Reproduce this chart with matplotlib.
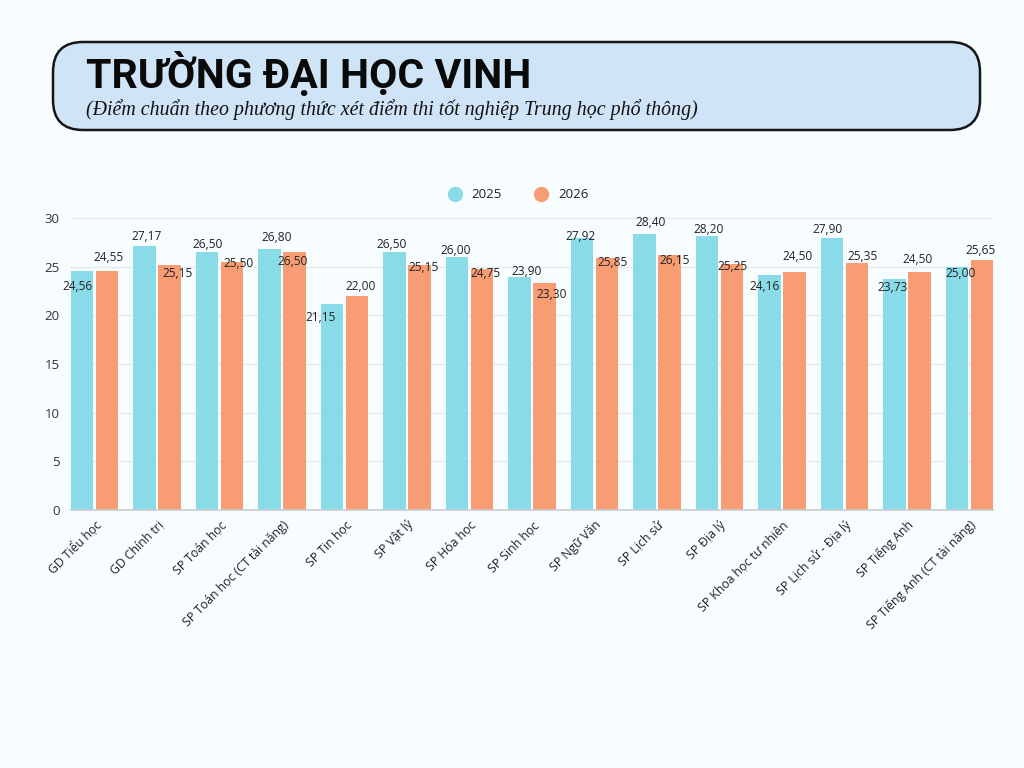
import matplotlib
matplotlib.use('Agg')
import matplotlib.pyplot as plt
from matplotlib.patches import FancyBboxPatch
import numpy as np

# data
majors = ['GD Tiểu học', 'GD Chính trị', 'SP Toán học', 'SP Toán học (CT tài năng)',
          'SP Tin học', 'SP Vật lý', 'SP Hóa học', 'SP Sinh học', 'SP Ngữ Văn',
          'SP Lịch sử', 'SP Địa lý', 'SP Khoa học tự nhiên', 'SP Lịch sử - Địa lý',
          'SP Tiếng Anh', 'SP Tiếng Anh (CT tài năng)']
score_2025 = [24.56, 27.17, 26.50, 26.80, 21.15, 26.50, 26.00, 23.90, 27.92,
              28.40, 28.20, 24.16, 27.90, 23.73, 25.00]
score_2026 = [24.55, 25.15, 25.50, 26.50, 22.00, 25.15, 24.75, 23.30, 25.85,
              26.15, 25.25, 24.50, 25.35, 24.50, 25.65]
years = ['2025', '2026']
y_ticks = [0, 5, 10, 15, 20, 25, 30]

# label nudges in pixels (dx, dy up) - the source chart shuffles labels to avoid overlaps
nudge_2025 = [(-5, -16), (2, 9), (0, 8), (7, 12), (-11, -13), (-3, 8), (-1, 6), (7, 6),
              (-1, 2), (6, 11), (2, 6), (-5, -12), (-4, 9), (-2, -8), (4, -7)]
nudge_2026 = [(1, 14), (8, -8), (6, -2), (-2, -9), (4, 9), (4, -2), (3, -4), (7, -11),
              (6, -4), (5, -5), (1, -2), (3, 15), (6, 7), (-2, 12), (-1, 10)]

BG = '#f7fcff'
CYAN = '#89dbe7'
ORANGE = '#f89c73'
TXT = '#222222'
FONT = 'Open Sans'

fig = plt.figure(figsize=(10.24, 7.68), dpi=100, facecolor=BG)

# header box, drawn in pixel units
top = fig.add_axes([0, 0, 1, 1])
top.set_xlim(0, 1024)
top.set_ylim(768, 0)
top.axis('off')
top.patch.set_alpha(0)
box = FancyBboxPatch((53, 42), 927, 88, boxstyle='round,pad=0,rounding_size=30',
                     facecolor='#cfe4f7', edgecolor='#161616', linewidth=1.8)
top.add_patch(box)
top.text(86, 88, 'TRƯỜNG ĐẠI HỌC VINH', fontsize=29.5, fontweight='bold',
         family='Roboto', color='#0a0a0a', va='baseline')
top.text(86, 115, '(Điểm chuẩn theo phương thức xét điểm thi tốt nghiệp Trung học phổ thông)',
         fontsize=14.3, style='italic', family='Liberation Serif', color='#111111',
         va='baseline')

# chart
ax = fig.add_axes([71 / 1024, 1 - 510 / 768, 922 / 1024, 292 / 768])
ax.set_facecolor(BG)
x = np.arange(len(majors))
w = 0.36
b1 = ax.bar(x - 0.2, score_2025, w, color=CYAN, label=years[0], zorder=2)
b2 = ax.bar(x + 0.2, score_2026, w, color=ORANGE, label=years[1], zorder=2)

for bars, vals, nud in [(b1, score_2025, nudge_2025), (b2, score_2026, nudge_2026)]:
    for bar, v, (dx, dy) in zip(bars, vals, nud):
        ax.annotate(f'{v:.2f}'.replace('.', ','),
                    (bar.get_x() + bar.get_width() / 2, v),
                    xytext=(dx, dy), textcoords='offset pixels',
                    ha='center', va='center', fontsize=8.6, family=FONT, color=TXT, zorder=3)

ax.set_xlim(-0.38, len(majors) - 1 + 0.38)
ax.set_ylim(0, 30)
ax.set_yticks(y_ticks)
ax.set_yticklabels([str(t) for t in y_ticks], family=FONT, fontsize=9.5, color='#333333')
ax.set_xticks(x)
ax.set_xticklabels(majors, rotation=45, ha='right', rotation_mode='anchor',
                   family=FONT, fontsize=8.8, color=TXT)
ax.tick_params(axis='both', length=0)
ax.tick_params(axis='y', pad=8)
ax.tick_params(axis='x', pad=6)
ax.grid(axis='y', color='#e4e8ee', linewidth=0.9, zorder=0)
for s in ['top', 'right', 'left']:
    ax.spines[s].set_visible(False)
ax.spines['bottom'].set_color('#c9cdd3')
ax.spines['bottom'].set_linewidth(1.2)
ax.spines['bottom'].set_zorder(3)

leg = fig.legend(handles=[
    plt.Line2D([], [], marker='o', linestyle='', markersize=10, color=CYAN),
    plt.Line2D([], [], marker='o', linestyle='', markersize=10, color=ORANGE)],
    labels=years, loc='center', bbox_to_anchor=(515 / 1024, 1 - 195 / 768),
    ncol=2, frameon=False, handletextpad=0.25, columnspacing=2.0,
    prop={'family': FONT, 'size': 9.5})
for t in leg.get_texts():
    t.set_color(TXT)

fig.savefig('out.png', dpi=100, facecolor=BG)
